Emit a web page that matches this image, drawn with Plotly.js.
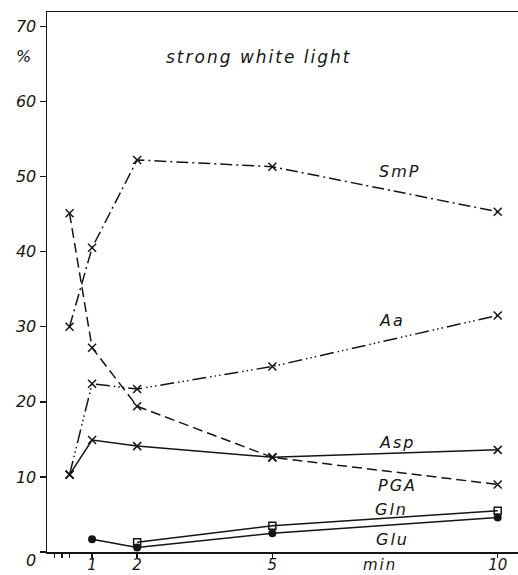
<!DOCTYPE html>
<html>
<head>
<meta charset="utf-8">
<script src="https://cdn.plot.ly/plotly-3.0.1.min.js"></script>
<style>
html,body{margin:0;padding:0;background:#fff;}
.annotation-text{letter-spacing:2px;}
</style>
</head>
<body>
<div id="chart" style="width:518px;height:575px;"></div>
<script>
// time in minutes
var tSmP = [0.5, 1, 2, 5, 10];
var vSmP = [30.0, 40.5, 52.2, 51.3, 45.3];
var tPGA = [0.5, 1, 2, 5, 10];
var vPGA = [45.1, 27.2, 19.4, 12.6, 9.0];
var tAa = [0.5, 1, 2, 5, 10];
var vAa = [10.3, 22.4, 21.7, 24.7, 31.5];
var tAsp = [0.5, 1, 2, 5, 10];
var vAsp = [10.3, 14.9, 14.1, 12.6, 13.6];
var tGln = [2, 5, 10];
var vGln = [1.3, 3.5, 5.5];
var tGlu = [1, 2, 5, 10];
var vGlu = [1.7, 0.6, 2.5, 4.6];

var xTickVals = [1/6, 1/3, 0.5, 1, 2, 5, 10];
var xTickText = ['', '', '', '1', '2', '5', '10'];
var yTickVals = [0, 10, 20, 30, 40, 50, 60, 70];
var yTickText = ['', '10', '20', '30', '40', '50', '60', '70'];

var ink = '#151515';
var fontFam = 'DejaVu Sans, sans-serif';
var xMark = {symbol: 'x-thin-open', size: 8, color: ink, line: {color: ink, width: 1.5}};

function tr(x, y, dash, marker) {
  return {x: x, y: y, type: 'scatter', mode: 'lines+markers',
    line: {color: ink, width: 1.5, dash: dash}, marker: marker, cliponaxis: false,
    showlegend: false, hoverinfo: 'skip'};
}

var data = [
  tr(tSmP, vSmP, '12px,4px,2px,4px', xMark),
  tr(tPGA, vPGA, '10px,5px', xMark),
  tr(tAa, vAa, '14px,4px,1.5px,3px,1.5px,3px,1.5px,4px', xMark),
  tr(tAsp, vAsp, 'solid', xMark),
  tr(tGln, vGln, 'solid', {symbol: 'square-open', size: 7, color: ink, line: {color: ink, width: 1.5}}),
  tr(tGlu, vGlu, 'solid', {symbol: 'circle', size: 8, color: ink, line: {color: ink, width: 0}})
];

var lf = {family: fontFam, size: 16, color: ink, style: 'italic'};
var xf = {family: fontFam, size: 15, color: ink, style: 'italic'};
function lab(text, x, y, size) {
  var f = Object.assign({}, lf);
  if (size) f.size = size;
  return {text: text, x: x, y: y, xref: 'x', yref: 'y', showarrow: false, font: f, xanchor: 'center', yanchor: 'middle'};
}
function plab(text, x, y, font) {
  return {text: text, x: x, y: y, xref: 'paper', yref: 'paper', showarrow: false, font: font || lf, xanchor: 'center', yanchor: 'middle'};
}

var layout = {
  width: 518, height: 575,
  margin: {l: 47, r: 0, t: 12, b: 23},
  paper_bgcolor: '#fff', plot_bgcolor: '#fff',
  xaxis: {range: [0, 10.45], tickmode: 'array', tickvals: xTickVals, ticktext: xTickText,
    showgrid: false, zeroline: false, showline: true, linecolor: ink, linewidth: 1.5, mirror: true,
    ticks: 'outside', ticklen: 4, tickwidth: 1.5, tickcolor: ink, tickfont: xf, ticklabelstandoff: -6},
  yaxis: {range: [0, 71.9], tickmode: 'array', tickvals: yTickVals, ticktext: yTickText,
    showgrid: false, zeroline: false, showline: true, linecolor: ink, linewidth: 1.5,
    ticks: 'outside', ticklen: 6, tickwidth: 1.5, tickcolor: ink, tickfont: lf},
  annotations: [
    lab('strong white light', 4.71, 65.9, 17),
    lab('SmP', 7.81, 50.6),
    lab('Aa', 7.66, 30.8),
    lab('Asp', 7.77, 14.6),
    lab('PGA', 7.77, 8.8),
    lab('Gln', 7.64, 5.7),
    lab('Glu', 7.66, 1.7),
    plab('%', -0.048, 0.9185),
    plab('0', -0.031, -0.015),
    plab('min', 0.707, -0.024, xf)
  ]
};

Plotly.newPlot('chart', data, layout, {displayModeBar: false, staticPlot: true});
</script>
</body>
</html>
